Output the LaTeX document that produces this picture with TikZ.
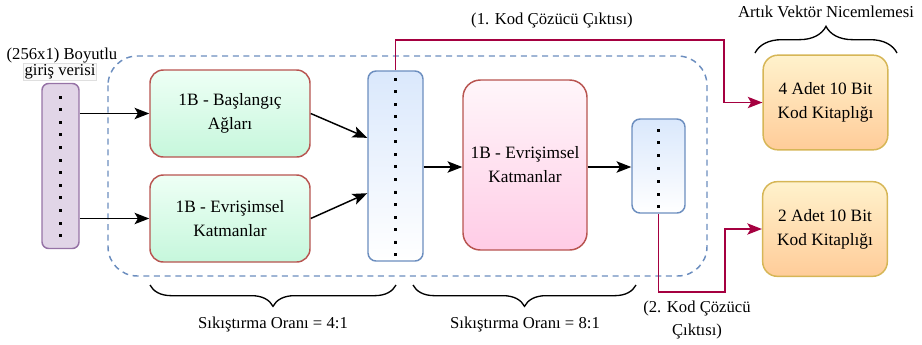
\documentclass[tikz,border=0pt]{standalone}
\usepackage{fontspec}
\setmainfont{Liberation Serif}
\usetikzlibrary{arrows.meta,decorations.pathreplacing,calc}

\definecolor{greenEdge}{HTML}{B85450}
\definecolor{greenTop}{HTML}{EEFFF5}
\definecolor{greenBot}{HTML}{C6F7DC}
\definecolor{blueEdge}{HTML}{6C8EBF}
\definecolor{blueTop}{HTML}{DAE8FC}
\definecolor{pinkTop}{HTML}{FFF6FA}
\definecolor{pinkBot}{HTML}{FFCCE6}
\definecolor{orangeEdge}{HTML}{D6B656}
\definecolor{orangeTop}{HTML}{FFF2CC}
\definecolor{orangeBot}{HTML}{FFCC99}
\definecolor{purpleFill}{HTML}{E1D5E7}
\definecolor{purpleEdge}{HTML}{9673A6}
\definecolor{outRed}{HTML}{A50040}

\begin{document}
\begin{tikzpicture}[x=0.75pt,y=-0.75pt,
  boxtext/.style={font=\fontsize{13}{18}\selectfont, align=center, inner sep=0pt},
  lbl/.style={font=\fontsize{12.5}{17}\selectfont, align=center, inner sep=0pt},
  greenbox/.style={boxtext, draw=greenEdge, line width=1.1pt, rounded corners=10pt,
    top color=greenTop, bottom color=greenBot, minimum width=120pt, minimum height=65.25pt},
  bluebar/.style={draw=blueEdge, line width=1.1pt, rounded corners=6pt,
    top color=blueTop, bottom color=white, inner sep=0pt},
  pinkbox/.style={boxtext, draw=greenEdge, line width=1.1pt, rounded corners=13pt,
    top color=pinkTop, bottom color=pinkBot, minimum width=93pt, minimum height=127.5pt},
  orangebox/.style={boxtext, draw=orangeEdge, line width=1.1pt, rounded corners=11pt,
    top color=orangeTop, bottom color=orangeBot, minimum width=93.5pt, minimum height=71pt},
  inbar/.style={draw=purpleEdge, line width=1.1pt, rounded corners=5pt, fill=purpleFill,
    inner sep=0pt, minimum width=27.75pt, minimum height=123.75pt},
  flow/.style={line width=1.1pt, -{Stealth[length=11pt,width=8.5pt,inset=2.5pt]}},
  outflow/.style={draw=outRed, line width=1.1pt, -{Stealth[length=11pt,width=8.5pt,inset=2.5pt]}},
  group/.style={draw=blueEdge, line width=1.1pt, dash pattern=on 4.5pt off 3.5pt, rounded corners=22pt},
  curly/.style={decorate, line width=1pt}
]
\useasboundingbox (0,0) rectangle (922,344);

% grouping frame around the encoder
\draw[group] (108,56) rectangle (707,276);

% input vector
\node[inbar] (inp) at (60.5,166) {};
\foreach \k in {0,...,11} \fill (60.5,97+\k*12.6) +(-1.5,-1.5) rectangle +(1.5,1.5);
\node[lbl] (inlabel) at (62,56) {(256x1) Boyutlu};
\node[lbl, draw=gray!25, fill=gray!4, inner sep=1pt] (inlabel2) at (60,72) {giriş verisi};

% first stage
\node[greenbox] (g1) at (230,113.5) {1B - Başlangıç\\Ağları};
\node[greenbox] (g2) at (230,218.5) {1B - Evrişimsel\\Katmanlar};

\node[bluebar, minimum width=41.25pt, minimum height=142.5pt] (b1) at (395.5,166) {};
\foreach \k in {0,...,14} \fill (395.5,79+\k*12.57) +(-1.5,-1.5) rectangle +(1.5,1.5);

% second stage
\node[pinkbox] (pk) at (525,165) {1B - Evrişimsel\\Katmanlar};

\node[bluebar, minimum width=39.75pt, minimum height=70.5pt] (b2) at (658.5,166) {};
\foreach \k in {0,...,6} \fill (658.5,130+\k*12.8) +(-1.5,-1.5) rectangle +(1.5,1.5);

% codebooks
\node[orangebox] (o1) at (825.5,102.5) {4 Adet 10 Bit\\Kod Kitaplığı};
\node[orangebox] (o2) at (825,229) {2 Adet 10 Bit\\Kod Kitaplığı};

% connectors
\draw[flow] (g1.west -| inp.east) -- (g1.west);
\draw[flow] (g2.west -| inp.east) -- (g2.west);
\draw[flow] (g1.east) -- ($(b1.north west)!0.353!(b1.south west)$);
\draw[flow] (g2.east) -- ($(b1.north west)!0.642!(b1.south west)$);
\draw[flow] (b1.east |- 0,167) -- (pk.west |- 0,167);
\draw[flow] (pk.east |- 0,167) -- (b2.west |- 0,167);

\draw[outflow] (b1.north) |- (724,40) |- (o1.west);
\draw[outflow] (b2.south) |- (725,292) |- (o2.west);

\node[lbl] (out1) at (552,20) {(1. Kod Çözücü Çıktısı)};
\node[lbl] (out2) at (697,320) {(2. Kod Çözücü\\Çıktısı)};

% braces
\draw[curly, decoration={brace, amplitude=16pt}] (396,285) -- (150,285);
\draw[curly, decoration={brace, amplitude=16pt}] (636,285) -- (413,285);
\draw[curly, decoration={brace, amplitude=20pt}] (755,53) -- (897,53);

\node[lbl] (ratio1) at (273,324) {Sıkıştırma Oranı = 4:1};
\node[lbl] (ratio2) at (525,324) {Sıkıştırma Oranı = 8:1};
\node[lbl] (rvq) at (826,12) {Artık Vektör Nicemlemesi};
\end{tikzpicture}
\end{document}
